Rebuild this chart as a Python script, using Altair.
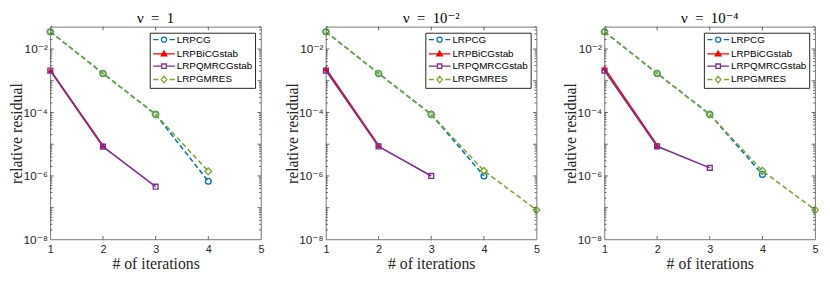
import altair as alt
import pandas as pd

# ---------------- data ----------------
methods = ["LRPCG", "LRPBiCGstab", "LRPQMRCGstab", "LRPGMRES"]
colors = ["#0072BD", "#FF0000", "#7E2F8E", "#77AC30"]
titles = ["ν\u2002=\u20021", "ν\u2002=\u200210⁻²", "ν\u2002=\u200210⁻⁴"]

# panel nu = 1
cg_1 = [3.5e-2, 1.7e-3, 8.7e-5, 6.8e-7]
bicg_1 = [2.15e-3, 9.0e-6]
qmr_1 = [2.1e-3, 8.4e-6, 4.6e-7]
gmres_1 = [3.5e-2, 1.7e-3, 8.7e-5, 1.4e-6]

# panel nu = 1e-2
cg_2 = [3.5e-2, 1.7e-3, 8.7e-5, 1.0e-6]
bicg_2 = [2.4e-3, 9.2e-6]
qmr_2 = [2.1e-3, 8.5e-6, 1.0e-6]
gmres_2 = [3.5e-2, 1.7e-3, 8.7e-5, 1.45e-6, 8.5e-8]

# panel nu = 1e-4
cg_3 = [3.5e-2, 1.7e-3, 8.7e-5, 1.12e-6]
bicg_3 = [2.5e-3, 9.3e-6]
qmr_3 = [2.1e-3, 8.6e-6, 1.8e-6]
gmres_3 = [3.5e-2, 1.7e-3, 8.7e-5, 1.45e-6, 8.5e-8]

panels = [
    [cg_1, bicg_1, qmr_1, gmres_1],
    [cg_2, bicg_2, qmr_2, gmres_2],
    [cg_3, bicg_3, qmr_3, gmres_3],
]

x_ticks = [1, 2, 3, 4, 5]
y_label_ticks = [1e-8, 1e-6, 1e-4, 1e-2]
y_minor_ticks = [k * 10.0 ** e for e in range(-8, -1) for k in range(2, 10) if k * 10.0 ** e <= 0.05]
y_major_ticks = [10.0 ** e for e in range(-7, -1)]

# ---------------- style ----------------
W, H = 214, 216
SANS = "Liberation Sans, DejaVu Sans"
SERIF = "Liberation Serif, DejaVu Serif"
INK = "#262626"

line_dash = {"LRPCG": [5, 3], "LRPBiCGstab": None, "LRPQMRCGstab": None, "LRPGMRES": [5, 3]}
marker = {"LRPCG": ("circle", False, 34), "LRPBiCGstab": ("triangle-up", True, 40),
          "LRPQMRCGstab": ("square", False, 24), "LRPGMRES": ("diamond", False, 46)}

# legend symbol paths (line + marker), unit = sqrt(symbolSize)/2 px
legend_paths = [
    "M-4.4,0H-2.3M2.3,0H4.4M1.05,0A1.05,1.05 0 1,1 -1.05,0A1.05,1.05 0 1,1 1.05,0Z",
    "M-4.4,0H4.4M0,-1.2L1.15,0.8L-1.15,0.8ZM0,-0.6L0.6,0.45L-0.6,0.45ZM0,-0.1L0.2,0.2L-0.2,0.2Z",
    "M-4.4,0H-0.9M0.9,0H4.4M-0.9,-0.9H0.9V0.9H-0.9Z",
    "M-4.4,0H-2.3M2.3,0H4.4M0,-1.35L1.15,0L0,1.35L-1.15,0Z",
]

legend = alt.Legend(
    title=None, orient="top-right", offset=6, padding=2,
    strokeColor=INK, fillColor="white",
    labelFont="Liberation Sans", labelFontSize=10, labelColor="#000000",
    symbolSize=25, symbolStrokeWidth=1.3, symbolOffset=7.5, labelOffset=8,
    symbolOpacity=1, rowPadding=2.5,
)

xscale = alt.Scale(domain=[1, 5], nice=False, zero=False)
yscale = alt.Scale(type="log", domain=[1e-8, 0.05], nice=False)

label_expr = ("'10' + (datum.value < 1e-7 ? '⁻⁸' : datum.value < 1e-5 ? '⁻⁶' : "
              "datum.value < 1e-3 ? '⁻⁴' : '⁻²')")

xaxis = alt.Axis(values=x_ticks, format="d", ticks=False, domain=False, grid=False,
                 labelFlush=False, labelFont=SANS, labelFontSize=11, labelColor=INK,
                 labelPadding=4, title="# of iterations", titleFont=SERIF,
                 titleFontSize=16, titleFontWeight="normal", titleColor=INK, titlePadding=2)
yaxis = alt.Axis(values=y_label_ticks, labelExpr=label_expr, ticks=False, domain=False,
                 grid=False, labelFont=SANS, labelFontSize=12, labelColor=INK,
                 labelPadding=3, minExtent=25, maxExtent=25,
                 title="relative residual", titleFont=SERIF,
                 titleFontSize=16, titleFontWeight="normal", titleColor=INK, titlePadding=1)


def X(field):
    return alt.X(f"{field}:Q", scale=xscale, axis=xaxis)


def Y(field):
    return alt.Y(f"{field}:Q", scale=yscale, axis=yaxis)


def panel(series, title):
    rows = []
    for m, vals in zip(methods, series):
        for i, v in enumerate(vals):
            rows.append({"method": m, "iter": x_ticks[i], "res": v})
    df = pd.DataFrame(rows)
    layers = []
    for m, c in zip(methods, colors):
        base = alt.Chart(df).transform_filter(alt.datum.method == m)
        lkw = dict(strokeWidth=1.6, color=c)
        if line_dash[m]:
            lkw["strokeDash"] = line_dash[m]
        layers.append(base.mark_line(**lkw).encode(x=X("iter"), y=Y("res")))
        shp, filled, size = marker[m]
        layers.append(base.mark_point(shape=shp, filled=filled, size=size, strokeWidth=1.4,
                                      color=c, opacity=1).encode(x=X("iter"), y=Y("res")))

    # legend-only layer (no rows pass the filter; the legend comes from the scales)
    layers.append(
        alt.Chart(df).transform_filter("false").mark_point(filled=False, opacity=1).encode(
            x=X("iter"), y=Y("res"),
            color=alt.Color("method:N", scale=alt.Scale(domain=methods, range=colors),
                            legend=legend),
            shape=alt.Shape("method:N", scale=alt.Scale(domain=methods, range=legend_paths),
                            legend=legend),
        )
    )

    ymin = pd.DataFrame({"v": y_minor_ticks})
    ymaj = pd.DataFrame({"v": y_major_ticks})
    xt = pd.DataFrame({"v": x_ticks[1:-1]})
    tick = dict(color=INK, strokeWidth=0.7)
    layers += [
        alt.Chart(ymin).mark_rule(**tick).encode(y=Y("v"), x=alt.value(0), x2=alt.value(2)),
        alt.Chart(ymin).mark_rule(**tick).encode(y=Y("v"), x=alt.value(W), x2=alt.value(W - 2)),
        alt.Chart(ymaj).mark_rule(**tick).encode(y=Y("v"), x=alt.value(0), x2=alt.value(3.5)),
        alt.Chart(ymaj).mark_rule(**tick).encode(y=Y("v"), x=alt.value(W), x2=alt.value(W - 3.5)),
        alt.Chart(xt).mark_rule(**tick).encode(x=X("v"), y=alt.value(H), y2=alt.value(H - 3.5)),
        alt.Chart(xt).mark_rule(**tick).encode(x=X("v"), y=alt.value(0), y2=alt.value(3.5)),
    ]
    return alt.layer(*layers).properties(
        width=W, height=H,
        title=alt.Title(title, font=SERIF, fontSize=15, fontWeight="normal",
                        color="#000000", offset=0, anchor="middle"),
    )


chart = (
    alt.hconcat(*[panel(s, t) for s, t in zip(panels, titles)], spacing=19)
    .resolve_legend(color="independent", shape="independent")
    .properties(padding=0)
    .configure_view(stroke="#555555", strokeWidth=0.8)
)

chart.save("out.html", embed_options={"renderer": "svg", "actions": False})
